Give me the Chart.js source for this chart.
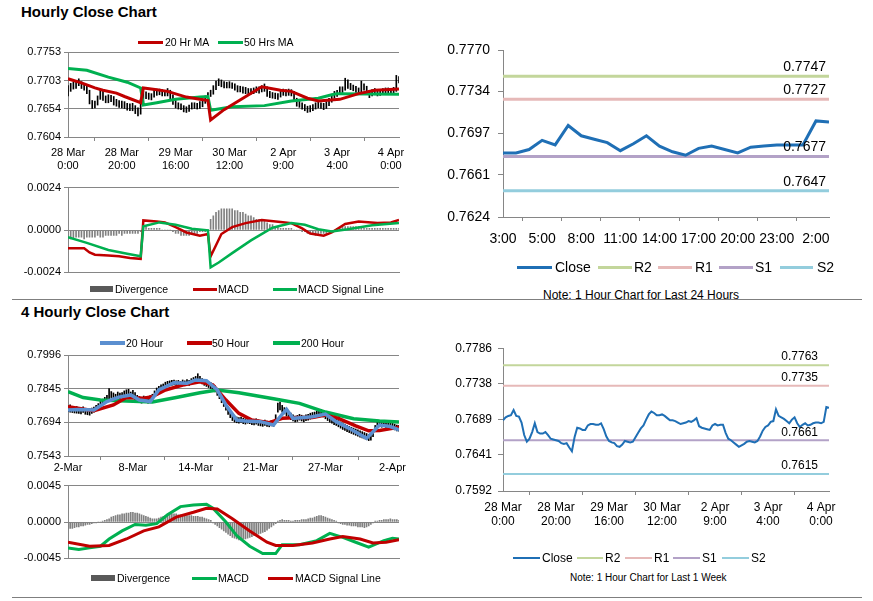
<!DOCTYPE html>
<html>
<head>
<meta charset="utf-8">
<script src="https://cdn.jsdelivr.net/npm/chart.js@4.4.1/dist/chart.umd.min.js"></script>
<style>
  body { margin: 0; background: #fff; font-family: 'Liberation Sans', Arial, sans-serif; }
  #page { position: relative; width: 873px; height: 601px; overflow: hidden; }
  .abs { position: absolute; }
  .title { position: absolute; left: 21px; font-weight: bold; font-size: 15px; line-height: 18px; }
  .rule { position: absolute; height: 1px; background: #7f7f7f; }
  .txt { position: absolute; white-space: nowrap; color: #000; }
  canvas { position: absolute; }
</style>
</head>
<body>
<div id="page">
  <div class="title" style="top:3px">Hourly Close Chart</div>
  <div class="title" style="top:303px">4 Hourly Close Chart</div>

  <canvas id="hourPrice" width="420" height="145" style="left:0;top:30px"></canvas>
  <canvas id="hourMacd" width="420" height="104" style="left:0;top:178px"></canvas>
  <canvas id="dayLevels" width="443" height="225" style="left:430px;top:30px"></canvas>
  <canvas id="fourPrice" width="420" height="130" style="left:0;top:345px"></canvas>
  <canvas id="fourMacd" width="420" height="92" style="left:0;top:476px"></canvas>
  <canvas id="weekLevels" width="443" height="200" style="left:430px;top:335px"></canvas>

  <div class="txt" style="left:543px;top:288px;font-size:12px;line-height:14px">Note: 1 Hour Chart for Last 24 Hours</div>
  <div class="txt" style="left:570px;top:572px;font-size:10px;line-height:12px">Note: 1 Hour Chart for Last 1 Week</div>
  <div class="rule" style="left:12px;top:299px;width:850px"></div>
  <div class="rule" style="left:12px;top:597px;width:850px"></div>
</div>

<script>
// ---------- hourly data (28 Mar 0:00 .. 4 Apr, one value per hour) ----------
const hourTickAt = [0, 20, 40, 60, 80, 100, 120];
const hourTickLabels = [['28 Mar', '0:00'], ['28 Mar', '20:00'], ['29 Mar', '16:00'], ['30 Mar', '12:00'],
  ['2 Apr', '9:00'], ['3 Apr', '4:00'], ['4 Apr', '0:00']];

const hourClose = [
  0.7688, 0.7692, 0.7694, 0.7695, 0.7702, 0.7694, 0.7693, 0.7685, 0.7668, 0.7659,
  0.7663, 0.7672, 0.7684, 0.7672, 0.7670, 0.7670, 0.7672, 0.7668, 0.7663, 0.7662,
  0.7661, 0.7660, 0.7657, 0.7656, 0.7657, 0.7651, 0.7646, 0.7665, 0.7678, 0.7677,
  0.7675, 0.7675, 0.7681, 0.7683, 0.7683, 0.7682, 0.7682, 0.7684, 0.7676, 0.7666,
  0.7660, 0.7658, 0.7657, 0.7653, 0.7652, 0.7655, 0.7660, 0.7659, 0.7658, 0.7659,
  0.7665, 0.7671, 0.7677, 0.7681, 0.7689, 0.7696, 0.7700, 0.7698, 0.7695, 0.7695,
  0.7696, 0.7694, 0.7691, 0.7688, 0.7688, 0.7687, 0.7685, 0.7683, 0.7684, 0.7685,
  0.7687, 0.7686, 0.7688, 0.7691, 0.7680, 0.7678, 0.7677, 0.7676, 0.7675, 0.7681,
  0.7683, 0.7681, 0.7682, 0.7682, 0.7671, 0.7663, 0.7661, 0.7658, 0.7655, 0.7652,
  0.7654, 0.7656, 0.7659, 0.7660, 0.7659, 0.7658, 0.7660, 0.7666, 0.7674, 0.7679,
  0.7681, 0.7686, 0.7687, 0.7703, 0.7694, 0.7692, 0.7690, 0.7687, 0.7684, 0.7689,
  0.7692, 0.7684, 0.7679, 0.7682, 0.7684, 0.7681, 0.7682, 0.7684, 0.7685, 0.7685,
  0.7684, 0.7686, 0.7706, 0.7705
];
const hourHigh = [
  0.7694, 0.7698, 0.7700, 0.7701, 0.7706, 0.7701, 0.7698, 0.7694, 0.7686, 0.7668,
  0.7667, 0.7676, 0.7688, 0.7686, 0.7676, 0.7678, 0.7677, 0.7675, 0.7670, 0.7668,
  0.7667, 0.7666, 0.7663, 0.7662, 0.7663, 0.7659, 0.7655, 0.7670, 0.7684, 0.7683,
  0.7681, 0.7680, 0.7686, 0.7688, 0.7688, 0.7687, 0.7686, 0.7689, 0.7686, 0.7678,
  0.7668, 0.7664, 0.7662, 0.7659, 0.7657, 0.7660, 0.7664, 0.7664, 0.7663, 0.7666,
  0.7671, 0.7676, 0.7682, 0.7686, 0.7694, 0.7702, 0.7706, 0.7704, 0.7701, 0.7700,
  0.7701, 0.7699, 0.7697, 0.7694, 0.7693, 0.7692, 0.7691, 0.7689, 0.7689, 0.7690,
  0.7692, 0.7692, 0.7694, 0.7697, 0.7692, 0.7684, 0.7682, 0.7681, 0.7680, 0.7686,
  0.7688, 0.7687, 0.7688, 0.7687, 0.7684, 0.7672, 0.7667, 0.7664, 0.7661, 0.7658,
  0.7659, 0.7661, 0.7664, 0.7665, 0.7664, 0.7663, 0.7666, 0.7672, 0.7679, 0.7684,
  0.7686, 0.7692, 0.7692, 0.7707, 0.7704, 0.7698, 0.7695, 0.7693, 0.7690, 0.7702,
  0.7697, 0.7693, 0.7685, 0.7687, 0.7689, 0.7687, 0.7687, 0.7689, 0.7690, 0.7690,
  0.7689, 0.7691, 0.7712, 0.7710
];
const hourLow = [
  0.7676, 0.7684, 0.7688, 0.7689, 0.7694, 0.7689, 0.7686, 0.7680, 0.7662, 0.7654,
  0.7655, 0.7660, 0.7670, 0.7668, 0.7664, 0.7664, 0.7666, 0.7660, 0.7658, 0.7656,
  0.7655, 0.7654, 0.7651, 0.7650, 0.7650, 0.7645, 0.7641, 0.7644, 0.7664, 0.7671,
  0.7670, 0.7669, 0.7674, 0.7677, 0.7678, 0.7676, 0.7676, 0.7676, 0.7670, 0.7661,
  0.7655, 0.7653, 0.7652, 0.7648, 0.7647, 0.7649, 0.7653, 0.7654, 0.7653, 0.7654,
  0.7657, 0.7663, 0.7669, 0.7675, 0.7679, 0.7687, 0.7694, 0.7692, 0.7690, 0.7690,
  0.7690, 0.7689, 0.7686, 0.7683, 0.7683, 0.7681, 0.7680, 0.7678, 0.7679, 0.7680,
  0.7682, 0.7681, 0.7683, 0.7684, 0.7675, 0.7673, 0.7672, 0.7671, 0.7670, 0.7674,
  0.7677, 0.7676, 0.7677, 0.7676, 0.7666, 0.7658, 0.7656, 0.7653, 0.7650, 0.7647,
  0.7648, 0.7650, 0.7653, 0.7655, 0.7654, 0.7652, 0.7654, 0.7659, 0.7665, 0.7672,
  0.7675, 0.7680, 0.7682, 0.7686, 0.7689, 0.7687, 0.7685, 0.7682, 0.7679, 0.7683,
  0.7686, 0.7679, 0.7673, 0.7676, 0.7678, 0.7676, 0.7677, 0.7679, 0.7680, 0.7680,
  0.7679, 0.7680, 0.7684, 0.7699
];

// moving averages, read at sample hours
const hourMa20At = [0, 5, 10, 13, 18, 21, 27, 28, 33, 37, 44, 49, 52, 53, 58, 65, 72, 79, 83, 89, 93, 101, 108, 114, 123];
const hourMa20 = [0.7706, 0.7699, 0.7690, 0.7686, 0.7681, 0.7675, 0.7664, 0.7690, 0.7687, 0.7684, 0.7674, 0.7670, 0.7668,
  0.7634, 0.7652, 0.7672, 0.7692, 0.7686, 0.7684, 0.7672, 0.7667, 0.7670, 0.7680, 0.7686, 0.7688];
const hourMa50At = [0, 7, 15, 22, 27, 28, 33, 40, 49, 52, 53, 61, 73, 83, 93, 98, 100, 123];
const hourMa50 = [0.7724, 0.7721, 0.7709, 0.7700, 0.7690, 0.7660, 0.7664, 0.7670, 0.7674, 0.7675, 0.7651, 0.7657,
  0.7659, 0.7667, 0.7672, 0.7678, 0.7680, 0.7679];

const hourMacdAt = [0, 6, 8, 10, 15, 19, 23, 27, 28, 33, 36, 40, 44, 49, 52, 53, 55, 57, 61, 66, 72, 79, 83, 87, 90, 95, 98, 103, 108, 115, 120, 123];
const hourMacd = [-0.00104, -0.00104, -0.00127, -0.0014, -0.00145, -0.00149, -0.00158, -0.00163, 0.00054, 0.00048,
  0.00043, 0.00016, -0.00014, -0.00032, -0.00023, -0.00149, -0.00086, -0.00023, 0.00016, 0.00039, 0.00057, 0.00045,
  0.00039, 0.00009, -0.0002, -0.00032, -0.00014, 0.00034, 0.00048, 0.00039, 0.00043, 0.00057];
const hourSignalAt = [0, 7, 15, 22, 27, 28, 34, 40, 46, 52, 53, 56, 61, 68, 76, 83, 88, 93, 98, 104, 113, 123];
const hourSignal = [-0.00041, -0.00073, -0.00113, -0.00134, -0.00149, 0.00021, 0.00043, 0.0003, 0.00007, -0.00002,
  -0.00211, -0.00184, -0.00131, -0.00059, 0.00013, 0.00039, 0.0003, 0.00004, -0.00009, 0.00004, 0.00027, 0.00039];
const hourDivergence = [
  -0.0005, -0.0005, -0.0005, -0.0004, -0.0004, -0.0004, -0.0005, -0.0004, -0.0004, -0.0004,
  -0.0004, -0.0003, -0.0004, -0.0004, -0.0003, -0.0003, -0.0003, -0.0003, -0.0003, -0.0002,
  -0.0003, -0.0002, -0.0002, -0.0002, -0.0002, -0.0002, -0.0002, -0.0001, 0.0002, 0.0002,
  0.0001, 0.0001, 0.0001, 0.0001, 0.0001, 0, 0, 0, 0, -0.0001,
  -0.0002, -0.0002, -0.0003, -0.0003, -0.0003, -0.0003, -0.0002, -0.0002, -0.0002, -0.0001,
  -0.0001, -0.0001, 0, 0.0006, 0.0008, 0.0010, 0.0011, 0.0012, 0.0012, 0.0012,
  0.0012, 0.0012, 0.0011, 0.0011, 0.0010, 0.0010, 0.0009, 0.0008, 0.0008, 0.0007,
  0.0006, 0.0006, 0.0005, 0.0005, 0.0004, 0.0003, 0.0003, 0.0002, 0.0002, 0.0001,
  0.0001, 0.0001, 0.0001, 0.0001, 0, 0, 0, -0.0001, -0.0001, -0.0002,
  -0.0002, -0.0002, -0.0003, -0.0003, -0.0002, -0.0002, -0.0002, -0.0001, -0.0001, 0,
  0.0001, 0.0001, 0.0002, 0.0002, 0.0002, 0.0002, 0.0002, 0.0002, 0.0002, 0.0002,
  0.0001, 0.0001, 0.0001, 0.0001, 0.0001, 0.0001, 0.0001, 0.0001, 0.0001, 0.0001,
  0.0001, 0.0001, 0.0001, 0.0001
];

// ---------- last 24 hours ----------
const dayTickAt = [0, 3, 6, 9, 12, 15, 18, 21, 24];
const dayTickLabels = ['3:00', '5:00', '8:00', '11:00', '14:00', '17:00', '20:00', '23:00', '2:00'];
const dayClose = [0.7680, 0.7680, 0.7683, 0.7691, 0.7687, 0.7704, 0.7695, 0.7692, 0.7689, 0.7682,
  0.7688, 0.7695, 0.7686, 0.7681, 0.7678, 0.7684, 0.7686, 0.7683, 0.7680, 0.7685,
  0.7686, 0.7687, 0.7687, 0.7687, 0.7708, 0.7707];
const levelNames = ['R2', 'R1', 'S1', 'S2'];
const levelColors = ['#c3d69b', '#e6b9b8', '#b3a2c7', '#93cddd'];
const dayLevels = [0.7747, 0.7727, 0.7677, 0.7647];
const weekLevels = [0.7763, 0.7735, 0.7661, 0.7615];

// ---------- 4 hourly data (2 Mar .. 2 Apr) ----------
const fourTickAt = [0, 30, 59, 89, 119, 150];
const fourTickLabels = ['2-Mar', '8-Mar', '14-Mar', '21-Mar', '27-Mar', '2-Apr'];
const fourHigh = [
  0.7768, 0.7772, 0.7766, 0.7762, 0.7765, 0.7760, 0.7758, 0.7764, 0.7756, 0.7752, 0.7755, 0.7758,
  0.7762, 0.7770, 0.7778, 0.7790, 0.7798, 0.7806,
  0.7815, 0.7845, 0.7832, 0.7826, 0.7820, 0.7830, 0.7825, 0.7828, 0.7835, 0.7840, 0.7842, 0.7830, 0.7838, 0.7828,
  0.7815, 0.7810, 0.7805, 0.7812, 0.7808, 0.7806, 0.7814, 0.7820,
  0.7835, 0.7848, 0.7855, 0.7862, 0.7866, 0.7874, 0.7878, 0.7880, 0.7882,
  0.7884, 0.7880, 0.7882, 0.7878, 0.7884, 0.7880, 0.7886, 0.7882, 0.7890,
  0.7895, 0.7900, 0.7912, 0.7900,
  0.7890, 0.7885, 0.7880, 0.7876, 0.7872, 0.7866,
  0.7858, 0.7845, 0.7830, 0.7812, 0.7795, 0.7780, 0.7760, 0.7745, 0.7730,
  0.7722, 0.7718, 0.7715, 0.7718, 0.7712, 0.7710, 0.7715, 0.7712, 0.7708, 0.7706, 0.7710, 0.7705, 0.7702, 0.7700,
  0.7704, 0.7700, 0.7698, 0.7702, 0.7700,
  0.7728, 0.7780, 0.7785, 0.7770, 0.7760, 0.7750,
  0.7740, 0.7735, 0.7728, 0.7722, 0.7725, 0.7730, 0.7726, 0.7722, 0.7728, 0.7730, 0.7735, 0.7738,
  0.7740, 0.7745, 0.7748, 0.7752, 0.7745, 0.7738,
  0.7730, 0.7722, 0.7718, 0.7712, 0.7708, 0.7702, 0.7696, 0.7690, 0.7686, 0.7680, 0.7676, 0.7672, 0.7668, 0.7664,
  0.7660, 0.7656, 0.7652, 0.7648, 0.7644, 0.7640, 0.7638,
  0.7655, 0.7680, 0.7700, 0.7702, 0.7698, 0.7700, 0.7696, 0.7694, 0.7698, 0.7692, 0.7686, 0.7682, 0.7680
];
const fourLow = [
  0.7742, 0.7740, 0.7738, 0.7736, 0.7735, 0.7734, 0.7732, 0.7738, 0.7730, 0.7728, 0.7726, 0.7734,
  0.7740, 0.7748, 0.7755, 0.7765, 0.7775, 0.7782,
  0.7790, 0.7800, 0.7805, 0.7800, 0.7796, 0.7804, 0.7800, 0.7802, 0.7808, 0.7810, 0.7812, 0.7800, 0.7806, 0.7795,
  0.7788, 0.7784, 0.7780, 0.7786, 0.7782, 0.7780, 0.7788, 0.7795,
  0.7810, 0.7822, 0.7830, 0.7838, 0.7842, 0.7850, 0.7855, 0.7858, 0.7860,
  0.7862, 0.7858, 0.7860, 0.7856, 0.7862, 0.7858, 0.7864, 0.7860, 0.7866,
  0.7872, 0.7876, 0.7880, 0.7874,
  0.7866, 0.7860, 0.7855, 0.7850, 0.7846, 0.7840,
  0.7830, 0.7815, 0.7800, 0.7782, 0.7765, 0.7748, 0.7730, 0.7715, 0.7702,
  0.7695, 0.7692, 0.7690, 0.7694, 0.7688, 0.7686, 0.7690, 0.7688, 0.7684, 0.7682, 0.7686, 0.7680, 0.7678, 0.7676,
  0.7680, 0.7676, 0.7674, 0.7678, 0.7676,
  0.7700, 0.7740, 0.7750, 0.7740, 0.7732, 0.7722,
  0.7712, 0.7706, 0.7700, 0.7696, 0.7698, 0.7704, 0.7700, 0.7696, 0.7702, 0.7704, 0.7708, 0.7712,
  0.7714, 0.7718, 0.7720, 0.7725, 0.7718, 0.7710,
  0.7702, 0.7695, 0.7690, 0.7684, 0.7680, 0.7674, 0.7668, 0.7662, 0.7658, 0.7652, 0.7648, 0.7644, 0.7640, 0.7636,
  0.7632, 0.7628, 0.7624, 0.7620, 0.7616, 0.7612, 0.7614,
  0.7630, 0.7655, 0.7675, 0.7678, 0.7672, 0.7674, 0.7670, 0.7668, 0.7672, 0.7666, 0.7660, 0.7656, 0.7654
];
const four20At = [0, 5, 12, 18, 23, 29, 33, 38, 42, 49, 55, 59, 64, 69, 73, 78, 82, 89, 95, 98, 101, 104, 109, 113, 119, 124, 130, 138, 144, 149, 153];
const four20 = [0.7749, 0.7752, 0.7749, 0.7787, 0.7806, 0.7817, 0.7794, 0.7787, 0.7839, 0.7872, 0.7869, 0.7884, 0.7881,
  0.7839, 0.7772, 0.7704, 0.7700, 0.7697, 0.7682, 0.7719, 0.7752, 0.7712, 0.7716, 0.7719, 0.7731, 0.7697, 0.7667,
  0.7622, 0.7682, 0.7675, 0.7660];
const four50At = [0, 12, 21, 27, 35, 39, 45, 53, 61, 67, 73, 79, 85, 93, 99, 107, 113, 119, 125, 133, 139, 144, 150, 153];
const four50 = [0.7764, 0.7746, 0.7772, 0.7805, 0.7802, 0.7809, 0.7839, 0.7861, 0.7876, 0.7861, 0.7794, 0.7734, 0.7704,
  0.7692, 0.7712, 0.7716, 0.7716, 0.7727, 0.7712, 0.7678, 0.7656, 0.7657, 0.7667, 0.7672];
const four200At = [0, 7, 15, 27, 39, 50, 61, 69, 79, 95, 107, 119, 132, 144, 153];
const four200 = [0.7832, 0.7805, 0.7794, 0.7790, 0.7785, 0.7805, 0.7827, 0.7839, 0.7827, 0.7800, 0.7779, 0.7740,
  0.7710, 0.7700, 0.7695];

const fourMacdAt = [0, 5, 10, 15, 19, 25, 31, 36, 41, 46, 52, 58, 64, 67, 73, 78, 84, 90, 96, 99, 107, 115, 121, 127, 133, 139, 146, 150, 153];
const fourMacd = [-0.0032, -0.0034, -0.0032, -0.003, -0.0021, -0.0011, -0.0003, -0.0004, -0.0002, 0.0009, 0.0019,
  0.0021, 0.0022, 0.0017, 0, -0.0017, -0.003, -0.0039, -0.0039, -0.0028, -0.0028, -0.0023, -0.0014, -0.0019,
  -0.0025, -0.0031, -0.0023, -0.002, -0.0021];
const fourSignalAt = [0, 10, 19, 27, 35, 42, 50, 58, 64, 69, 76, 84, 92, 96, 104, 113, 121, 127, 135, 141, 147, 153];
const fourSignal = [-0.0025, -0.003, -0.0029, -0.0021, -0.0011, -0.0006, 0.0006, 0.0012, 0.0017, 0.0016, 0.0004,
  -0.0011, -0.0025, -0.0029, -0.0029, -0.0026, -0.0021, -0.0018, -0.0021, -0.0026, -0.0025, -0.0022];
const fourDivergence = [
  -0.0009, -0.0008, -0.0008, -0.0007, -0.0006, -0.0006, -0.0005, -0.0005, -0.0004, -0.0003, -0.0003, -0.0002,
  -0.0001, -0.0001, 0, 0, 0.0001, 0.0002,
  0.0003, 0.0004, 0.0006, 0.0007, 0.0008, 0.0009, 0.0009, 0.001, 0.001, 0.0011, 0.0011, 0.0012, 0.0012, 0.0011,
  0.0011, 0.001, 0.0009, 0.0008, 0.0007, 0.0006, 0.0005, 0.0004,
  0.0004, 0.0004, 0.0005, 0.0006, 0.0007, 0.0008,
  0.0009, 0.001, 0.001, 0.001, 0.001, 0.0009, 0.0009, 0.0009, 0.0008, 0.0008, 0.0008, 0.0008, 0.0007, 0.0007,
  0.0007, 0.0006, 0.0006, 0.0005, 0.0004, 0.0003, 0.0002,
  -0.0001, -0.0003, -0.0005, -0.0007, -0.0009, -0.0011, -0.0013, -0.0015, -0.0017, -0.0019, -0.0020, -0.0021,
  -0.0022, -0.0022, -0.0021, -0.0021, -0.0020, -0.0019, -0.0018, -0.0017, -0.0016, -0.0015, -0.0014, -0.0013,
  -0.0012, -0.0010, -0.0008, -0.0006, -0.0004, -0.0002,
  0.0001, 0.0002, 0.0003, 0.0002, 0.0002, 0.0002, 0.0001, 0.0001, 0.0002, 0.0002, 0.0002, 0.0003, 0.0003, 0.0003,
  0.0004, 0.0005, 0.0005, 0.0006, 0.0007, 0.0008, 0.0008, 0.0007,
  0.0006, 0.0005, 0.0004, 0.0003, 0.0002, 0.0001,
  -0.0001, -0.0002, -0.0003, -0.0003, -0.0004, -0.0004, -0.0005, -0.0005, -0.0005, -0.0006, -0.0006, -0.0006,
  -0.0007, -0.0006, -0.0005, -0.0003, -0.0001,
  0.0001, 0.0001, 0.0002, 0.0002, 0.0003, 0.0003, 0.0003, 0.0004, 0.0003, 0.0003, 0.0003, 0.0002
];

// ---------- chart helpers ----------
const GRID = '#868686';
const RED = '#c00000';
const GREEN = '#00b050';
const BLUE = '#1f6fb5';
const STEEL = '#5b8fd0';
const BAR_GREY = '#808080';
const DIV_SWATCH = '#595959';

Chart.defaults.font.family = "'Liberation Sans', Arial, sans-serif";
Chart.defaults.color = '#000';

const seq = ys => ys.map((y, i) => ({ x: i, y }));
const pts = (xs, ys) => ys.map((y, i) => ({ x: xs[i], y }));
const ranges = (lo, hi) => lo.map((l, i) => ({ x: i, y: [l, hi[i]] }));

function lineSet(label, data, color, width, order) {
    return { type: 'line', label, data, borderColor: color, backgroundColor: color, borderWidth: width,
        pointRadius: 0, tension: 0, fill: false, order };
}

function barSet(label, data, color, order) {
    return { type: 'bar', label, data, backgroundColor: color, borderWidth: 0, barThickness: 1, grouped: false, order };
}

function axisY(o) {
    return {
        position: 'left',
        min: o.ticks[0],
        max: o.ticks[o.ticks.length - 1],
        afterBuildTicks: s => { s.ticks = o.ticks.map(v => ({ value: v })); },
        afterFit: s => { s.width = o.width; },
        ticks: { font: { size: o.size }, color: '#000', padding: o.pad, autoSkip: false, callback: v => v.toFixed(4) },
        grid: { drawOnChartArea: o.grid, color: GRID, tickLength: o.tickLen },
        border: { color: GRID }
    };
}

function axisX(o) {
    return {
        type: 'linear',
        min: 0,
        max: o.max,
        offset: false,
        afterBuildTicks: s => { s.ticks = (o.at || []).map(v => ({ value: v })); },
        afterFit: s => { s.height = o.height; },
        ticks: {
            display: !!o.labels, font: { size: o.size }, color: '#000', padding: o.pad,
            maxRotation: 0, minRotation: 0, autoSkip: false,
            callback: (v, i) => (o.labels ? o.labels[i] : '')
        },
        grid: { drawOnChartArea: false, drawTicks: !!o.labels, tickLength: 4, color: GRID },
        border: { color: GRID }
    };
}

// value labels written just above the right end of each level line
const levelLabels = {
    id: 'levelLabels',
    afterDatasetsDraw(chart, args, opts) {
        const ctx = chart.ctx;
        ctx.save();
        ctx.font = opts.size + "px 'Liberation Sans', Arial, sans-serif";
        ctx.fillStyle = '#000';
        ctx.textAlign = 'right';
        ctx.textBaseline = 'middle';
        chart.data.datasets.forEach((ds, i) => {
            if (ds.levelValue === undefined) return;
            const meta = chart.getDatasetMeta(i).data;
            const p = meta[meta.length - 1];
            ctx.fillText(ds.levelValue.toFixed(4), p.x + opts.dx, p.y + opts.dy);
        });
        ctx.restore();
    }
};

function makeChart(id, datasets, scales, padding, extra) {
    return new Chart(document.getElementById(id), {
        type: 'bar',
        data: { datasets },
        options: {
            responsive: false,
            animation: false,
            events: [],
            layout: { padding },
            scales,
            plugins: Object.assign({ legend: { display: false }, tooltip: { enabled: false } }, extra || {})
        },
        plugins: [levelLabels]
    });
}

function levelSets(values, lastX, width) {
    return values.map((v, i) => Object.assign(
        lineSet(levelNames[i], pts([0, lastX], [v, v]), levelColors[i], width, 2 + i), { levelValue: v }));
}

// ---------- charts ----------
makeChart('hourPrice', [
    lineSet('20 Hr MA', pts(hourMa20At, hourMa20), RED, 3, 1),
    lineSet('50 Hrs MA', pts(hourMa50At, hourMa50), GREEN, 3, 2),
    barSet('Price', ranges(hourLow, hourHigh), '#000', 3)
], {
    x: axisX({ max: 123, at: hourTickAt, labels: hourTickLabels, size: 11, pad: 5, height: 34 }),
    y: axisY({ ticks: [0.7604, 0.7654, 0.7703, 0.7753], width: 68, size: 11, pad: 3, tickLen: 4, grid: true })
}, { left: 0, right: 21, top: 22, bottom: 4 });

makeChart('hourMacd', [
    lineSet('MACD', pts(hourMacdAt, hourMacd), RED, 2.5, 2),
    lineSet('MACD Signal Line', pts(hourSignalAt, hourSignal), GREEN, 2.5, 1),
    barSet('Divergence', seq(hourDivergence), BAR_GREY, 3)
], {
    x: axisX({ max: 123, height: 0 }),
    y: axisY({ ticks: [-0.0024, 0, 0.0024], width: 68, size: 11, pad: 3, tickLen: 4, grid: true })
}, { left: 0, right: 21, top: 9, bottom: 5 });

makeChart('dayLevels', [
    lineSet('Close', seq(dayClose), BLUE, 3, 0),
    ...levelSets(dayLevels, dayClose.length - 1, 3)
], {
    x: axisX({ max: dayClose.length - 1, at: dayTickAt, labels: dayTickLabels, size: 14, pad: 10, height: 32 }),
    y: axisY({ ticks: [0.7624, 0.7661, 0.7697, 0.7734, 0.7770], width: 73, size: 14, pad: 8, tickLen: 5, grid: false })
}, { left: 0, right: 44, top: 20, bottom: 6 }, { levelLabels: { size: 14, dx: -3, dy: -9 } });

makeChart('fourPrice', [
    lineSet('20 Hour', pts(four20At, four20), STEEL, 3.5, 1),
    lineSet('50 Hour', pts(four50At, four50), RED, 3.5, 2),
    lineSet('200 Hour', pts(four200At, four200), GREEN, 3.5, 3),
    barSet('Price', ranges(fourLow, fourHigh), '#000', 4)
], {
    x: axisX({ max: 153, at: fourTickAt, labels: fourTickLabels, size: 11, pad: 1, height: 19 }),
    y: axisY({ ticks: [0.7543, 0.7694, 0.7845, 0.7996], width: 68, size: 11, pad: 3, tickLen: 4, grid: true })
}, { left: 0, right: 21, top: 10, bottom: 0 });

makeChart('fourMacd', [
    lineSet('MACD', pts(fourMacdAt, fourMacd), GREEN, 3, 2),
    lineSet('MACD Signal Line', pts(fourSignalAt, fourSignal), RED, 3, 1),
    barSet('Divergence', seq(fourDivergence), BAR_GREY, 3)
], {
    x: axisX({ max: 153, height: 0 }),
    y: axisY({ ticks: [-0.0045, 0, 0.0045], width: 68, size: 11, pad: 3, tickLen: 4, grid: true })
}, { left: 0, right: 21, top: 8, bottom: 5 });

makeChart('weekLevels', [
    lineSet('Close', seq(hourClose), BLUE, 2, 0),
    ...levelSets(weekLevels, hourClose.length - 1, 2)
], {
    x: axisX({ max: 123, at: hourTickAt, labels: hourTickLabels, size: 12, pad: 5, height: 38 }),
    y: axisY({ ticks: [0.7592, 0.7641, 0.7689, 0.7738, 0.7786], width: 73, size: 12, pad: 6, tickLen: 5, grid: false })
}, { left: 0, right: 44, top: 12, bottom: 6 }, { levelLabels: { size: 12, dx: -11, dy: -8 } });

// ---------- legends (swatch left, text left) ----------
function addLegend(cy, size, items) {
    const page = document.getElementById('page');
    items.forEach(([x, w, h, color, tx, text]) => {
        const sw = document.createElement('div');
        sw.className = 'abs';
        sw.style.cssText = `left:${x}px;top:${cy - h / 2}px;width:${w}px;height:${h}px;background:${color}`;
        page.appendChild(sw);
        const label = document.createElement('div');
        label.className = 'txt';
        label.style.cssText = `left:${tx}px;top:${cy - size * 0.6}px;font-size:${size}px;line-height:${size * 1.2}px`;
        label.textContent = text;
        page.appendChild(label);
    });
}

addLegend(42, 10.5, [[138, 25, 3, RED, 165, '20 Hr MA'], [218, 25, 3, GREEN, 244, '50 Hrs MA']]);
addLegend(289, 10.5, [[90, 23, 6, DIV_SWATCH, 115, 'Divergence'], [193, 24, 3, RED, 218, 'MACD'],
    [273, 24, 3, GREEN, 298, 'MACD Signal Line']]);
addLegend(267, 14, [[517, 35, 3, BLUE, 555, 'Close'], [598, 34, 3, levelColors[0], 634, levelNames[0]],
    [658, 34, 3, levelColors[1], 695, levelNames[1]], [719, 34, 3, levelColors[2], 755, levelNames[2]],
    [780, 33, 3, levelColors[3], 817, levelNames[3]]]);
addLegend(343, 10.5, [[100, 25, 4, STEEL, 126, '20 Hour'], [187, 25, 4, RED, 212, '50 Hour'],
    [273, 27, 4, GREEN, 301, '200 Hour']]);
addLegend(578, 10.5, [[91, 24, 6, DIV_SWATCH, 117, 'Divergence'], [192, 25, 3, GREEN, 218, 'MACD'],
    [268, 25, 3, RED, 295, 'MACD Signal Line']]);
addLegend(558, 12, [[513, 27, 2, BLUE, 542, 'Close'], [577, 26, 2, levelColors[0], 605, levelNames[0]],
    [625, 27, 2, levelColors[1], 654, levelNames[1]], [673, 27, 2, levelColors[2], 702, levelNames[2]],
    [722, 27, 2, levelColors[3], 751, levelNames[3]]]);
</script>
</body>
</html>
